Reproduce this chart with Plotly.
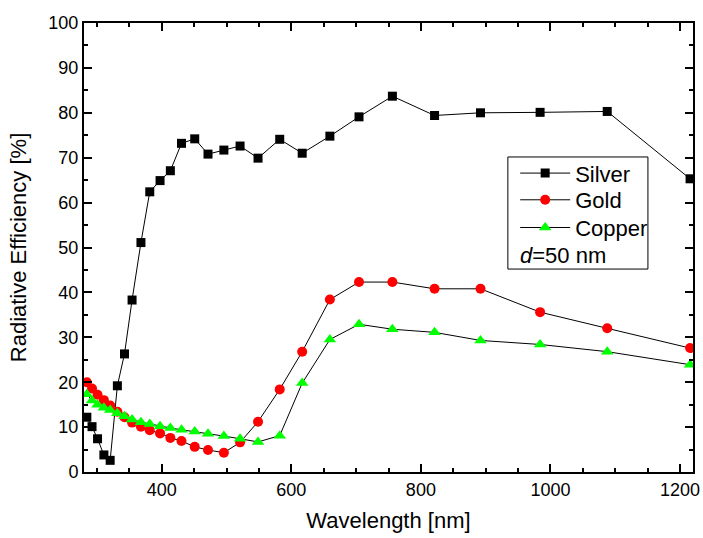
import plotly.graph_objects as go

# Wavelength grid (nm) of the optical-constant data set
wavelength = [284.4, 292.4, 300.9, 310.7, 320.4, 331.5, 342.5, 354.2, 367.9, 381.5,
              397.4, 413.3, 430.5, 450.9, 471.4, 495.9, 520.9, 548.6, 582.1, 616.8,
              659.5, 704.5, 756.0, 821.1, 892.0, 984.0, 1087.6, 1215.5]

# Radiative efficiency (%) for a 50 nm particle
silver = [12.2, 10.1, 7.4, 3.8, 2.6, 19.2, 26.3, 38.3, 51.1, 62.4,
          64.9, 67.1, 73.2, 74.2, 70.8, 71.7, 72.6, 69.9, 74.1, 71.0,
          74.8, 79.1, 83.7, 79.4, 80.0, 80.1, 80.3, 65.3]
gold = [20.0, 18.6, 17.2, 16.0, 14.8, 13.4, 12.2, 11.0, 10.1, 9.3,
        8.6, 7.6, 6.9, 5.6, 4.9, 4.3, 6.6, 11.2, 18.4, 26.8,
        38.4, 42.3, 42.3, 40.8, 40.8, 35.6, 32.0, 27.6]
copper = [17.3, 15.9, 15.0, 14.3, 13.8, 13.1, 12.4, 11.7, 11.1, 10.7,
          10.2, 9.8, 9.4, 9.0, 8.5, 8.0, 7.4, 6.7, 8.1, 19.8,
          29.5, 32.9, 31.8, 31.1, 29.3, 28.4, 26.8, 23.9]

series = [
    ("Silver", silver, "square", "#000000", 9, "legend"),
    ("Gold", gold, "circle", "#ff0000", 10, "legend2"),
    ("Copper", copper, "triangle-up", "#00ff00", 11, "legend3"),
]

FONT = "Liberation Sans, Arial, sans-serif"

fig = go.Figure()
for name, vals, sym, col, size, leg in series:
    fig.add_trace(go.Scatter(
        x=wavelength, y=vals, name=name, mode="lines+markers",
        line=dict(color="#000000", width=1),
        marker=dict(symbol=sym, color=col, size=size, line=dict(width=0)),
        legend=leg,
    ))

axis_common = dict(
    showline=True, linecolor="#000000", linewidth=2, mirror="ticks",
    ticks="inside", ticklen=8, tickwidth=1.5, tickcolor="#000000",
    showgrid=False, zeroline=False, automargin=False,
    tickfont=dict(family=FONT, size=18, color="#000000"),
)

fig.update_xaxes(
    range=[280, 1220], tick0=0, dtick=200,
    minor=dict(dtick=50, ticks="inside", ticklen=4, tickwidth=1.5, tickcolor="#000000"),
    title=dict(text="Wavelength [nm]", font=dict(family=FONT, size=22, color="#000000"), standoff=14),
    **axis_common,
)
fig.update_yaxes(
    range=[0, 100], tick0=0, dtick=10,
    minor=dict(dtick=5, ticks="inside", ticklen=4, tickwidth=1.5, tickcolor="#000000"),
    title=dict(text="Radiative Efficiency [%]", font=dict(family=FONT, size=22, color="#000000"), standoff=16),
    **axis_common,
)

# Legend box with the particle-size note underneath the entries
fig.add_shape(type="rect", xref="paper", yref="paper",
              x0=0.696, x1=0.926, y0=0.452, y1=0.7016,
              line=dict(color="#000000", width=1), fillcolor="rgba(0,0,0,0)")
fig.add_annotation(xref="paper", yref="paper", x=0.712, y=0.482,
                   xanchor="left", yanchor="middle", showarrow=False,
                   text="<i>d</i>=50 nm", font=dict(family=FONT, size=22, color="#000000"))

legend_style = dict(xanchor="left", yanchor="middle", bgcolor="rgba(0,0,0,0)",
                    borderwidth=0, itemwidth=50,
                    font=dict(family=FONT, size=22, color="#000000"))

fig.update_layout(
    width=703, height=538,
    margin=dict(l=84, r=10, t=23, b=66, autoexpand=False),
    paper_bgcolor="white", plot_bgcolor="white",
    showlegend=True,
    legend=dict(x=0.708, y=0.6653, **legend_style),
    legend2=dict(x=0.708, y=0.6058, **legend_style),
    legend3=dict(x=0.708, y=0.5441, **legend_style),
)

fig.write_html("out.html")
